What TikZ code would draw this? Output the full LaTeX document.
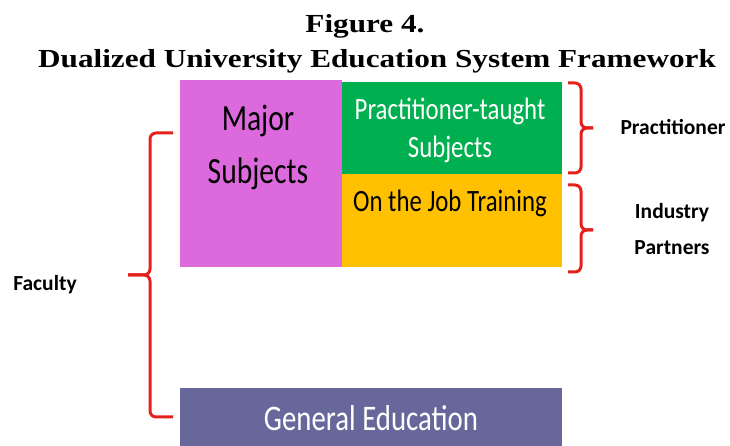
\documentclass[tikz,border=0pt]{standalone}
\usepackage{fontspec}
\usepackage{xcolor}
\usepackage{tikz}
\usetikzlibrary{positioning, calc}
\setmainfont{Carlito}
\newfontfamily\boxfont[FakeStretch=0.8]{Carlito}
\newfontfamily\titlefont[FakeStretch=1.2]{Liberation Serif}

\definecolor{majorpink}{HTML}{DC6ADC}
\definecolor{practgreen}{HTML}{00B050}
\definecolor{ojtorange}{HTML}{FFC000}
\definecolor{genpurple}{HTML}{67679B}
\definecolor{bracered}{HTML}{E3201C}

\begin{document}
\begin{tikzpicture}[x=1pt, y=1pt,
    blk/.style={rectangle, inner sep=0pt, anchor=south west},
    brc/.style={draw=bracered, line width=3pt, rounded corners=6pt},
    ttlf/.style={font=\titlefont\bfseries\fontsize{26}{30}\selectfont, anchor=base},
    lbl/.style={font=\bfseries\fontsize{21.5}{36}\selectfont, align=center}]
    \useasboundingbox (0,0) rectangle (730,446);

    % Titel
    \node[ttlf] (fig) at (365,413) {Figure 4.};
    \node[ttlf] (ttl) at (377,378) {Dualized University Education System Framework};

    % Bloecke
    \node[blk, fill=majorpink, minimum width=162pt, minimum height=187pt] (major) at (180,179) {};
    \node[blk, fill=practgreen, minimum width=220pt, minimum height=92pt] (pract) at (342,272) {};
    \node[blk, fill=ojtorange, minimum width=220pt, minimum height=93pt] (ojt) at (342,179) {};
    \node[blk, fill=genpurple, minimum width=382pt, minimum height=58pt] (gen) at (180,0) {};

    \node[font=\boxfont\fontsize{37}{53}\selectfont, align=center] (majortxt) at (258,299) {Major\\Subjects};
    \node[font=\boxfont\fontsize{31}{38}\selectfont, align=center, text=white] (practtxt) at (450,316) {Practitioner-taught\\Subjects};
    \node[font=\boxfont\fontsize{31}{38}\selectfont, anchor=base] (ojttxt) at (450,234) {On the Job Training};
    \node[font=\boxfont\fontsize{36}{40}\selectfont, anchor=base, text=white] (gentxt) at (371,15) {General Education};

    % Klammern
    \coordinate (fa) at (173,313);
    \coordinate (fb) at (173,29);
    \coordinate (ftip) at (128,171);
    \draw[brc] (fa) -| (150,171) -- (ftip);
    \draw[brc] (fb) -| (150,171) -- (ftip);

    \coordinate (pa) at (568,363);
    \coordinate (pb) at (568,273);
    \coordinate (ptip) at (593,318);
    \draw[brc] (pa) -| (581,318) -- (ptip);
    \draw[brc] (pb) -| (581,318) -- (ptip);

    \coordinate (ia) at (568,261);
    \coordinate (ib) at (568,174);
    \coordinate (itip) at (593,216);
    \draw[brc] (ia) -| (581,216) -- (itip);
    \draw[brc] (ib) -| (581,216) -- (itip);

    % Beschriftungen
    \node[lbl, anchor=base] (praclbl) at (673,311) {Practitioner};
    \node[lbl] (indlbl) at (672,217) {Industry\\Partners};
    \node[lbl, anchor=base] (faclbl) at (45,155) {Faculty};
\end{tikzpicture}
\end{document}
